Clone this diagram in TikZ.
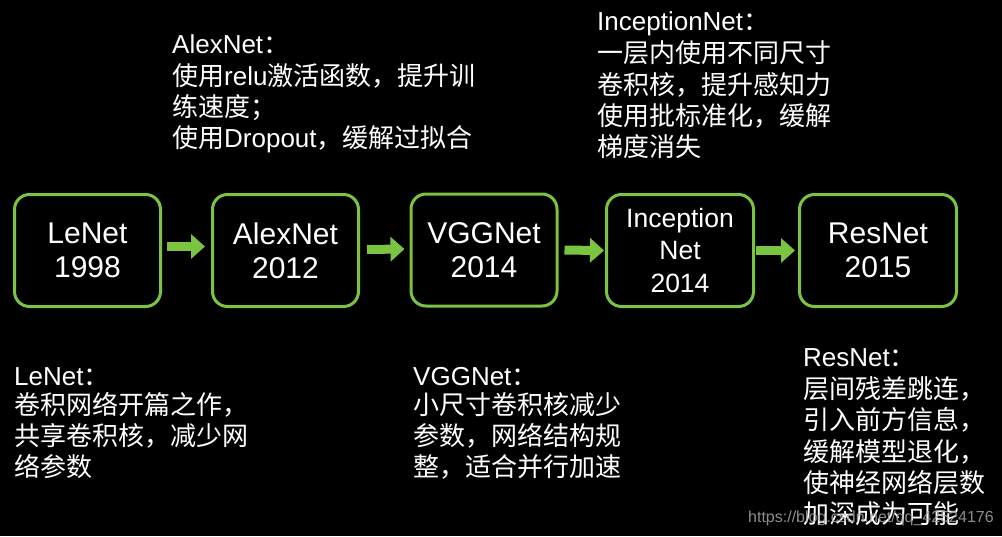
\documentclass[tikz,border=0pt]{standalone}
\usepackage{fontspec}
\setmainfont{Liberation Sans}
\newfontfamily\cjk{Noto Sans CJK SC}
\usetikzlibrary{arrows.meta}
\definecolor{grn}{RGB}{122,196,66}
\begin{document}
\begin{tikzpicture}[x=1pt,y=-1pt,
  netbox/.style={draw=grn,line width=3pt,rounded corners=15pt,minimum width=146pt,
    minimum height=112pt,text=white,align=center,inner sep=0pt,
    font=\fontsize{30}{34}\selectfont},
  desc/.style={anchor=base west,inner sep=0pt,text=white,font=\fontsize{26}{31}\selectfont},
  flow/.style={grn,line width=9pt,-{Triangle[length=14pt,width=24pt]}},
  wmark/.style={anchor=base west,inner sep=0pt,text=gray!70,opacity=0.85,font=\fontsize{16}{18}\selectfont}]
\fill[black] (0,0) rectangle (1002,536);
\useasboundingbox (0,0) rectangle (1002,536);

% boxes
\node[netbox] (le) at (87.5,250.5) {LeNet\\1998};
\node[netbox] (al) at (285.5,250.5) {AlexNet\\2012};
\node[netbox] (vg) at (484,250) {VGGNet\\2014};
\node[netbox,minimum width=147pt,font=\fontsize{26.5}{32.5}\selectfont] (in) at (680,250.5) {Inception\\Net\\2014};
\node[netbox,minimum width=157pt] (rs) at (878,250.5) {ResNet\\2015};

% arrows
\draw[flow,shorten <=5pt,shorten >=6pt] ([yshift=4pt]le.east) -- ([yshift=4pt]al.west);
\draw[flow,shorten <=7pt,shorten >=5pt] ([yshift=1pt]al.east) -- ([yshift=1pt]vg.west);
\draw[flow,shorten <=6pt,shorten >=1pt] (vg.east) -- (in.west);
\draw[flow,shorten <=1pt,shorten >=3pt] (in.east) -- (rs.west);

% AlexNet description
\node[desc] (a1) at (172,53) {AlexNet{\cjk ：}};
\node[desc] (a2) at (172,85) {{\cjk 使用}relu{\cjk 激活函数，提升训}};
\node[desc] (a3) at (172,116) {{\cjk 练速度；}};
\node[desc] (a4) at (172,147) {{\cjk 使用}Dropout{\cjk ，缓解过拟合}};

% InceptionNet description
\node[desc] (i1) at (597,30) {InceptionNet{\cjk ：}};
\node[desc] (i2) at (597,62) {{\cjk 一层内使用不同尺寸}};
\node[desc] (i3) at (597,94) {{\cjk 卷积核，提升感知力}};
\node[desc] (i4) at (597,125) {{\cjk 使用批标准化，缓解}};
\node[desc] (i5) at (597,156) {{\cjk 梯度消失}};

% LeNet description
\node[desc] (l1) at (14,385) {LeNet{\cjk ：}};
\node[desc] (l2) at (14,414) {{\cjk 卷积网络开篇之作，}};
\node[desc] (l3) at (14,445) {{\cjk 共享卷积核，减少网}};
\node[desc] (l4) at (14,476) {{\cjk 络参数}};

% VGGNet description
\node[desc] (v1) at (413,385) {VGGNet{\cjk ：}};
\node[desc] (v2) at (413,414) {{\cjk 小尺寸卷积核减少}};
\node[desc] (v3) at (413,445) {{\cjk 参数，网络结构规}};
\node[desc] (v4) at (413,476) {{\cjk 整，适合并行加速}};

% ResNet description
\node[desc] (r1) at (803,366) {ResNet{\cjk ：}};
\node[desc] (r2) at (803,398) {{\cjk 层间残差跳连，}};
\node[desc] (r3) at (803,429) {{\cjk 引入前方信息，}};
\node[desc] (r4) at (803,461) {{\cjk 缓解模型退化，}};
\node[desc] (r5) at (803,492) {{\cjk 使神经网络层数}};
\node[desc] (r6) at (803,523) {{\cjk 加深成为可能}};

% watermark
\node[wmark] (wm) at (748,522) {https://blog.csdn.net/qq\_42524176};
\end{tikzpicture}
\end{document}
